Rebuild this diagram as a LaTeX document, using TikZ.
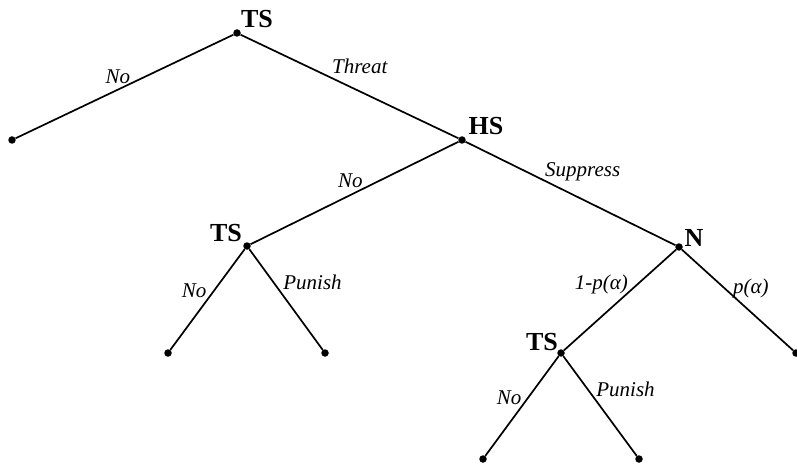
\documentclass[tikz,border=0pt]{standalone}
\usepackage{fontspec}
\setmainfont{Liberation Serif}
\usetikzlibrary{positioning}

\tikzset{
  dot/.style={circle, fill=black, inner sep=0pt, minimum size=7.5pt},
  player/.style={font=\fontsize{26}{26}\selectfont\bfseries, inner sep=0pt},
  move/.style={font=\fontsize{21}{21}\selectfont\itshape, inner sep=0pt},
  branch/.style={line width=1.7pt}
}

\begin{document}
\begin{tikzpicture}[x=1pt, y=-1pt]
 \useasboundingbox (0,0) rectangle (797,465);
 % decision and end points
 \node[dot] (ts1) at (237,33) {};
 \node[dot] (end1) at (12,140) {};
 \node[dot] (hs) at (462,140) {};
 \node[dot] (ts2) at (247,246) {};
 \node[dot] (n) at (679,247) {};
 \node[dot] (end2) at (168,353) {};
 \node[dot] (end3) at (325,353) {};
 \node[dot] (ts3) at (561,353) {};
 \node[dot] (end4) at (796,353) {};
 \node[dot] (end5) at (483,459) {};
 \node[dot] (end6) at (639,459) {};
 % players
 \node[player] (ts1-name) at ([shift={(20,-14)}]ts1) {TS};
 \node[player] (hs-name) at ([shift={(24,-14)}]hs) {HS};
 \node[player] (ts2-name) at ([shift={(-21,-13)}]ts2) {TS};
 \node[player] (n-name) at ([shift={(15,-9)}]n) {N};
 \node[player] (ts3-name) at ([shift={(-19,-11)}]ts3) {TS};
 % moves
 \path[branch]
  (ts1) edge node[move, pos=0.53, anchor=base, yshift=6pt] {No} (end1)
        edge node[move, pos=0.547, anchor=base, yshift=18pt] {Threat} (hs)
  (hs) edge node[move, pos=0.52, anchor=base, yshift=8pt] {No} (ts2)
       edge node[move, pos=0.558, anchor=base, yshift=23pt] {Suppress} (n)
  (ts2) edge node[move, pos=0.41, anchor=east, xshift=-7pt] {No} (end2)
        edge node[move, pos=0.33, anchor=west, xshift=9pt] {Punish} (end3)
  (n) edge node[move, pos=0.35, anchor=east, xshift=-8pt] {1-p(α)} (ts3)
      edge node[move, pos=0.39, anchor=west, xshift=7pt] {p(α)} (end4)
  (ts3) edge node[move, pos=0.415, anchor=east, xshift=-6pt] {No} (end5)
        edge node[move, pos=0.33, anchor=west, xshift=8pt] {Punish} (end6)
 ;
\end{tikzpicture}
\end{document}
